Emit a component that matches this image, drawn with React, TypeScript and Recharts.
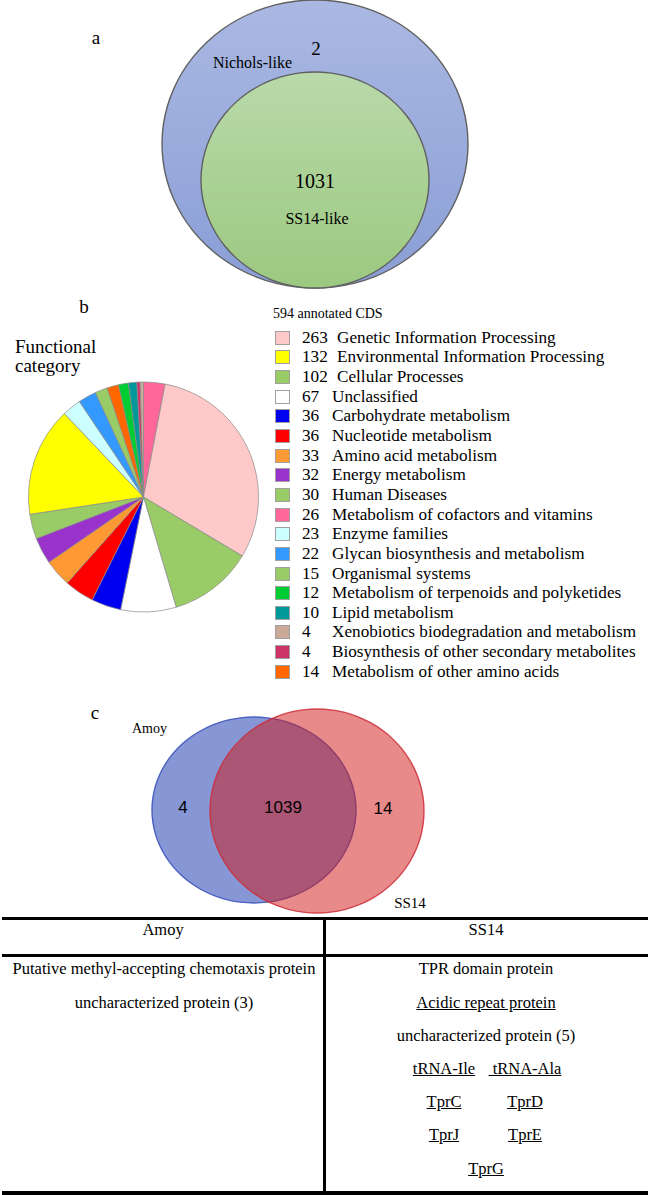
import React from "react";
import { PieChart, Pie, Cell, Legend } from "recharts";

// ---- panel b: functional categories, in legend order ----
const categories = [
  "Genetic Information Processing",
  "Environmental Information Processing",
  "Cellular Processes",
  "Unclassified",
  "Carbohydrate metabolism",
  "Nucleotide metabolism",
  "Amino acid metabolism",
  "Energy metabolism",
  "Human Diseases",
  "Metabolism of cofactors and vitamins",
  "Enzyme families",
  "Glycan biosynthesis and metabolism",
  "Organismal systems",
  "Metabolism of terpenoids and polyketides",
  "Lipid metabolism",
  "Xenobiotics biodegradation and metabolism",
  "Biosynthesis of other secondary metabolites",
  "Metabolism of other amino acids",
];
const counts = [263, 132, 102, 67, 36, 36, 33, 32, 30, 26, 23, 22, 15, 12, 10, 4, 4, 14];
const annotatedCds = 594;

// slices clockwise from 12 o'clock
const pieOrder = [
  "Metabolism of cofactors and vitamins",
  "Genetic Information Processing",
  "Cellular Processes",
  "Unclassified",
  "Carbohydrate metabolism",
  "Nucleotide metabolism",
  "Amino acid metabolism",
  "Energy metabolism",
  "Human Diseases",
  "Environmental Information Processing",
  "Enzyme families",
  "Glycan biosynthesis and metabolism",
  "Organismal systems",
  "Metabolism of other amino acids",
  "Metabolism of terpenoids and polyketides",
  "Lipid metabolism",
  "Biosynthesis of other secondary metabolites",
  "Xenobiotics biodegradation and metabolism",
];

// ---- panel a / c: venn counts ----
const vennASets = ["Nichols-like", "SS14-like"];
const vennACounts = [2, 1031]; // Nichols-like only, shared
const vennCSets = ["Amoy", "SS14"];
const vennCCounts = [4, 1039, 14]; // Amoy only, shared, SS14 only

// ---- table under panel c ----
const tableHeader = ["Amoy", "SS14"];
const amoyOnly = ["Putative methyl-accepting chemotaxis protein", "uncharacterized protein (3)"];
const ss14Only = [
  ["TPR domain protein"],
  ["Acidic repeat protein"],
  ["uncharacterized protein\u00a0(5)"],
  ["tRNA-Ile", "\u00a0tRNA-Ala"],
  ["TprC", "TprD"],
  ["TprJ", "TprE"],
  ["TprG"],
];
const underlined = ["Acidic repeat protein", "tRNA-Ile", "\u00a0tRNA-Ala", "TprC", "TprD", "TprJ", "TprE", "TprG"];

const colors: Record<string, string> = {
  "Genetic Information Processing": "#ffc9c9",
  "Environmental Information Processing": "#ffff00",
  "Cellular Processes": "#99cc66",
  Unclassified: "#ffffff",
  "Carbohydrate metabolism": "#0000f0",
  "Nucleotide metabolism": "#ff0000",
  "Amino acid metabolism": "#ff9933",
  "Energy metabolism": "#9933cc",
  "Human Diseases": "#99cc66",
  "Metabolism of cofactors and vitamins": "#ff6699",
  "Enzyme families": "#ccffff",
  "Glycan biosynthesis and metabolism": "#3399ff",
  "Organismal systems": "#99cc66",
  "Metabolism of terpenoids and polyketides": "#00cc33",
  "Lipid metabolism": "#009999",
  "Xenobiotics biodegradation and metabolism": "#ccaa99",
  "Biosynthesis of other secondary metabolites": "#cc3366",
  "Metabolism of other amino acids": "#ff6600",
};

const SERIF = '"Liberation Serif", "Times New Roman", serif';
const SANS = '"Liberation Sans", Arial, sans-serif';

const pieData = pieOrder.map((name) => ({ name, value: counts[categories.indexOf(name)] }));

// one venn set = a single full slice, squashed into an ellipse
function VennSet(props: {
  name: string;
  value: number;
  cx: number;
  cy: number;
  rx: number;
  ry: number;
  fill: string;
  stroke: string;
  gradient?: [string, string];
}) {
  const { name, value, cx, cy, rx, ry, fill, stroke, gradient } = props;
  const size = Math.ceil(2 * rx + 6);
  const gid = "grad-" + name.replace(/\W/g, "");
  const data = [{ name, value }];
  return (
    <div
      style={{
        position: "absolute",
        left: cx - size / 2,
        top: cy - size / 2,
        width: size,
        height: size,
        transform: `scaleY(${ry / rx})`,
      }}
    >
      <PieChart width={size} height={size} margin={{ top: 0, right: 0, bottom: 0, left: 0 }}>
        {gradient && (
          <defs>
            <linearGradient id={gid} x1="0" y1="0" x2="0" y2="1">
              <stop offset="0%" stopColor={gradient[0]} />
              <stop offset="100%" stopColor={gradient[1]} />
            </linearGradient>
          </defs>
        )}
        <Pie
          data={data}
          dataKey="value"
          cx="50%"
          cy="50%"
          outerRadius={rx}
          startAngle={90}
          endAngle={-270}
          stroke="none"
          fill={gradient ? `url(#${gid})` : fill}
          legendType="none"
          isAnimationActive={false}
        />
        <Pie
          data={data}
          dataKey="value"
          cx="50%"
          cy="50%"
          innerRadius={rx - 0.7}
          outerRadius={rx + 0.7}
          startAngle={90}
          endAngle={-270}
          stroke="none"
          fill={stroke}
          legendType="none"
          isAnimationActive={false}
        />
      </PieChart>
    </div>
  );
}

function renderLegend() {
  return (
    <div style={{ fontFamily: SERIF, color: "#000", textAlign: "left" }}>
      <div style={{ fontSize: 14, lineHeight: "28px", height: 28, marginLeft: -2 }}>
        {annotatedCds} annotated CDS
      </div>
      {categories.map((c, i) => (
        <div key={c} style={{ display: "flex", alignItems: "center", height: 19.65, fontSize: 17.2, whiteSpace: "nowrap" }}>
          <span
            style={{
              display: "inline-block",
              width: 15,
              height: 14,
              background: colors[c],
              border: "1px solid #a0a0a0",
              boxSizing: "border-box",
              flex: "none",
            }}
          />
          <span
            style={{
              marginLeft: 12,
              minWidth: 30,
              marginRight: String(counts[i]).length > 2 ? 5 : 0,
              display: "inline-block",
            }}
          >
            {counts[i]}
          </span>
          <span>{c}</span>
        </div>
      ))}
    </div>
  );
}

// html text placed by its baseline
function Txt(props: { x: number; base: number; children: React.ReactNode; size?: number; under?: boolean }) {
  const size = props.size ?? 16.5;
  const lh = 22;
  const top = props.base - ((lh - 1.107 * size) / 2 + 0.891 * size);
  return (
    <div
      style={{
        position: "absolute",
        left: props.x - 200,
        width: 400,
        top,
        lineHeight: lh + "px",
        fontSize: size,
        fontFamily: SERIF,
        textAlign: "center",
        whiteSpace: "nowrap",
      }}
    >
      <span style={{ textDecoration: props.under ? "underline" : "none" }}>{props.children}</span>
    </div>
  );
}

const pairX = [444, 525];

export default function App() {
  const line = (left: number, top: number, width: number, height: number) => (
    <div style={{ position: "absolute", left, top, width, height, background: "#000" }} />
  );
  return (
    <div
      style={{
        position: "absolute",
        left: 0,
        top: 0,
        width: 648,
        height: 1195,
        overflow: "hidden",
        background: "#fff",
      }}
    >
      {/* panel a */}
      <VennSet name={vennASets[0]} value={vennACounts[0] + vennACounts[1]} cx={315} cy={144} rx={153} ry={144}
        fill="#9aaddc" stroke="#606060" gradient={["#aab8e2", "#8a9ed6"]} />
      <VennSet name={vennASets[1]} value={vennACounts[1]} cx={315} cy={180} rx={114} ry={108}
        fill="#a9d18e" stroke="#606060" gradient={["#b9d9aa", "#9cc980"]} />

      {/* panel c */}
      <VennSet name={vennCSets[0]} value={vennCCounts[0] + vennCCounts[1]} cx={254} cy={810} rx={102} ry={93}
        fill="rgba(55,82,187,0.6)" stroke="#4a60c0" />
      <VennSet name={vennCSets[1]} value={vennCCounts[1] + vennCCounts[2]} cx={317} cy={811} rx={107} ry={102}
        fill="rgba(209,21,21,0.5)" stroke="rgba(205,45,55,0.85)" />

      <div style={{ position: "absolute", left: 0, top: 0 }}>
        <PieChart width={648} height={915} margin={{ top: 0, right: 0, bottom: 0, left: 0 }}>
          <Pie
            data={pieData}
            dataKey="value"
            nameKey="name"
            cx={143.5}
            cy={497}
            outerRadius={115}
            startAngle={90}
            endAngle={-270}
            stroke="#8a8a8a"
            strokeWidth={0.7}
            isAnimationActive={false}
          >
            {pieData.map((d) => (
              <Cell key={d.name} fill={colors[d.name]} />
            ))}
          </Pie>
          <Legend
            content={renderLegend}
            wrapperStyle={{ position: "absolute", left: 275, top: 300, width: 373, height: 380 }}
          />

          <g fontFamily={SERIF} fill="#000">
            <text x={96} y={44} fontSize={19} textAnchor="middle">a</text>
            <text x={213} y={68} fontSize={16}>{vennASets[0]}</text>
            <text x={316} y={55} fontSize={19} textAnchor="middle">{vennACounts[0]}</text>
            <text x={315} y={188} fontSize={20} textAnchor="middle">{vennACounts[1]}</text>
            <text x={317} y={224} fontSize={16} textAnchor="middle">{vennASets[1]}</text>

            <text x={84} y={313} fontSize={19} textAnchor="middle">b</text>
            <text x={15} y={353} fontSize={19}>Functional</text>
            <text x={15} y={372} fontSize={19}>category</text>

            <text x={95} y={719} fontSize={19} textAnchor="middle">c</text>
            <text x={132} y={733} fontSize={14}>{vennCSets[0]}</text>
            <text x={410} y={908} fontSize={15} textAnchor="middle">{vennCSets[1]}</text>
          </g>
          <g fontFamily={SANS} fill="#000" fontSize={17} textAnchor="middle">
            <text x={183} y={813}>{vennCCounts[0]}</text>
            <text x={283} y={813}>{vennCCounts[1]}</text>
            <text x={383} y={814}>{vennCCounts[2]}</text>
          </g>
        </PieChart>
      </div>

      {/* table */}
      {line(2, 916.5, 646, 3)}
      {line(2, 953.5, 646, 3)}
      {line(2, 1190.5, 646, 4)}
      {line(322.5, 916.5, 3, 277)}
      <Txt x={163} base={936}>{tableHeader[0]}</Txt>
      <Txt x={486} base={936}>{tableHeader[1]}</Txt>
      {amoyOnly.map((t, i) => (
        <Txt key={t} x={164} base={975 + 33.2 * i}>{t}</Txt>
      ))}
      {ss14Only.map((row, i) =>
        row.map((t, j) => (
          <Txt
            key={t}
            x={row.length === 1 ? 486 : pairX[j]}
            base={975 + 33.2 * i}
            under={underlined.includes(t)}
          >
            {t}
          </Txt>
        ))
      )}
    </div>
  );
}
